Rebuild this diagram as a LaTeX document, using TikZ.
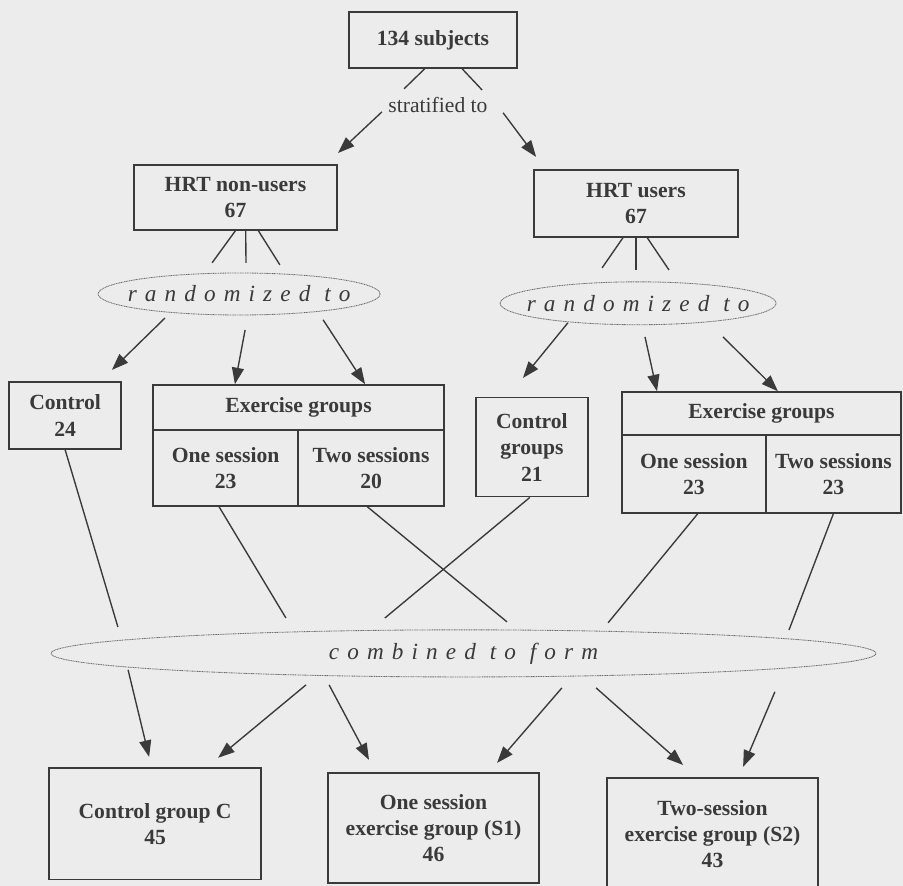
\documentclass[tikz,border=0pt]{standalone}
\usepackage{fontspec}
\setmainfont{Liberation Serif}
\newfontfamily\spacedfont{Liberation Serif}[LetterSpace=35]
\usetikzlibrary{arrows.meta, calc, shapes.geometric}
\definecolor{Paper}{HTML}{ECECEC}
\definecolor{Ink}{HTML}{3A3A3A}
\definecolor{Rim}{HTML}{6E6E6E}
\tikzset{
  box/.style={draw=Ink, line width=1.3pt, text=Ink, align=center, inner sep=0pt,
    font=\fontsize{20.5}{25}\selectfont\bfseries},
  oval/.style={ellipse, draw=Rim, line width=0.8pt, dash pattern=on 1pt off 0.6pt, inner sep=0pt},
  spaced/.style={text=Ink, font=\fontsize{22}{26}\selectfont\spacedfont\itshape},
  label/.style={text=Ink, font=\fontsize{20.5}{25}\selectfont},
  link/.style={draw=Ink, line width=1.3pt},
  arrow/.style={-{Triangle[length=0.55cm, width=0.4cm]}, draw=Ink, line width=1.3pt},
}

\begin{document}
\begin{tikzpicture}[scale=1.0]
  \fill[Paper] (0,0) rectangle (30.1,29.53);
  \useasboundingbox (0,0) rectangle (30.1,29.53);

  % Top of the tree
  \node[box, minimum width=5.6cm, minimum height=1.87cm] (top) at (14.43,28.20) {134 subjects};
  \node[label] (strat) at (14.6,26.03) {stratified to};
  \node[box, minimum width=6.77cm, minimum height=2.17cm] (nonusers) at (7.85,22.95) {HRT non-users\\67};
  \node[box, minimum width=6.8cm, minimum height=2.23cm] (users) at (21.2,22.75) {HRT users\\67};

  \coordinate (ta) at (13.47,26.57);
  \coordinate (tb) at (16.07,26.53);
  \coordinate (sa) at (12.73,25.80);
  \coordinate (sb) at (16.77,25.77);
  \coordinate (ea) at (11.27,24.43);
  \coordinate (eb) at (17.87,24.30);
  \draw[link] ([xshift=-0.27cm]top.south) -- (ta);
  \draw[link] ([xshift=0.97cm]top.south) -- (tb);
  \draw[arrow] (sa) -- (ea);
  \draw[arrow] (sb) -- (eb);

  % Randomisation
  \node[oval, minimum width=9.4cm, minimum height=1.4cm] (randL) at (7.97,19.73) {};
  \node[spaced] (randLtxt) at (randL) {randomized to};
  \node[oval, minimum width=9.2cm, minimum height=1.43cm] (randR) at (21.27,19.42) {};
  \node[spaced] (randRtxt) at (randR) {randomized to};

  \draw[link] (nonusers.south) -- (7.07,20.77);
  \draw[link] ([xshift=0.34cm]nonusers.south) -- (8.20,20.77);
  \draw[link] ([xshift=0.76cm]nonusers.south) -- (9.33,20.70);
  \draw[link] ([xshift=-0.43cm]users.south) -- (20.07,20.60);
  \draw[link] (users.south) -- (21.20,20.53);
  \draw[link] ([xshift=0.37cm]users.south) -- (22.30,20.53);

  % Groups after randomisation
  \node[box, minimum width=3.73cm, minimum height=2.23cm] (ctrlL) at (2.17,15.68) {Control\\24};
  \node[box, minimum width=9.7cm, minimum height=1.5cm] (exLhead) at (9.95,15.95) {Exercise groups};
  \node[box, minimum width=4.83cm, minimum height=2.53cm] (exLone) at (7.52,13.93) {One session\\23};
  \node[box, minimum width=4.87cm, minimum height=2.53cm] (exLtwo) at (12.37,13.93) {Two sessions\\20};

  \node[box, minimum width=3.73cm, minimum height=3.3cm] (ctrlR) at (17.73,14.62) {Control\\groups\\21};
  \node[box, minimum width=9.3cm, minimum height=1.43cm] (exRhead) at (25.38,15.75) {Exercise groups};
  \node[box, minimum width=4.8cm, minimum height=2.6cm] (exRone) at (23.13,13.73) {One session\\23};
  \node[box, minimum width=4.5cm, minimum height=2.6cm] (exRtwo) at (27.78,13.73) {Two sessions\\23};

  \draw[arrow] (5.50,18.93) -- (3.73,17.20);
  \draw[arrow] (8.17,18.53) -- ([xshift=-2.12cm]exLhead.north);
  \draw[arrow] (10.77,18.87) -- ([xshift=2.22cm]exLhead.north);
  \draw[arrow] (18.93,18.77) -- (17.43,16.93);
  \draw[arrow] (21.50,18.30) -- ([xshift=-3.48cm]exRhead.north);
  \draw[arrow] (24.10,18.30) -- ([xshift=0.55cm]exRhead.north);

  % Lines into the combining step
  \draw[link] (ctrlL.south) -- (3.93,8.63);
  \draw[link] ([xshift=-0.22cm]exLone.south) -- (9.53,8.93);
  \draw[link] ([xshift=-0.13cm]exLtwo.south) -- (16.90,8.80);
  \draw[link] ([xshift=-0.07cm]ctrlR.south) -- (12.83,8.93);
  \draw[link] ([xshift=0.13cm]exRone.south) -- (20.27,8.77);
  \draw[link] (exRtwo.south) -- (26.30,8.53);

  \node[oval, minimum width=27.5cm, minimum height=1.57cm] (comb) at (15.45,7.75) {};
  \node[spaced] (combtxt) at (comb) {combined to form};

  % Final groups
  \node[box, minimum width=7.07cm, minimum height=3.73cm] (boxC) at (5.17,2.07) {Control group C\\45};
  \node[box, minimum width=7.03cm, minimum height=3.67cm] (boxS) at (14.45,1.93) {One session\\exercise group (S1)\\46};
  \node[box, minimum width=7.03cm, minimum height=3.73cm] (boxT) at (23.75,1.73) {Two-session\\exercise group (S2)\\43};

  \draw[arrow] (4.27,7.20) -- (4.97,4.30);
  \draw[arrow] (10.20,6.70) -- (7.27,4.27);
  \draw[arrow] (10.97,6.70) -- (12.30,4.20);
  \draw[arrow] (18.73,6.60) -- (16.57,4.10);
  \draw[arrow] (19.87,6.60) -- (22.77,4.03);
  \draw[arrow] (25.83,6.47) -- (24.77,3.97);
\end{tikzpicture}
\end{document}
